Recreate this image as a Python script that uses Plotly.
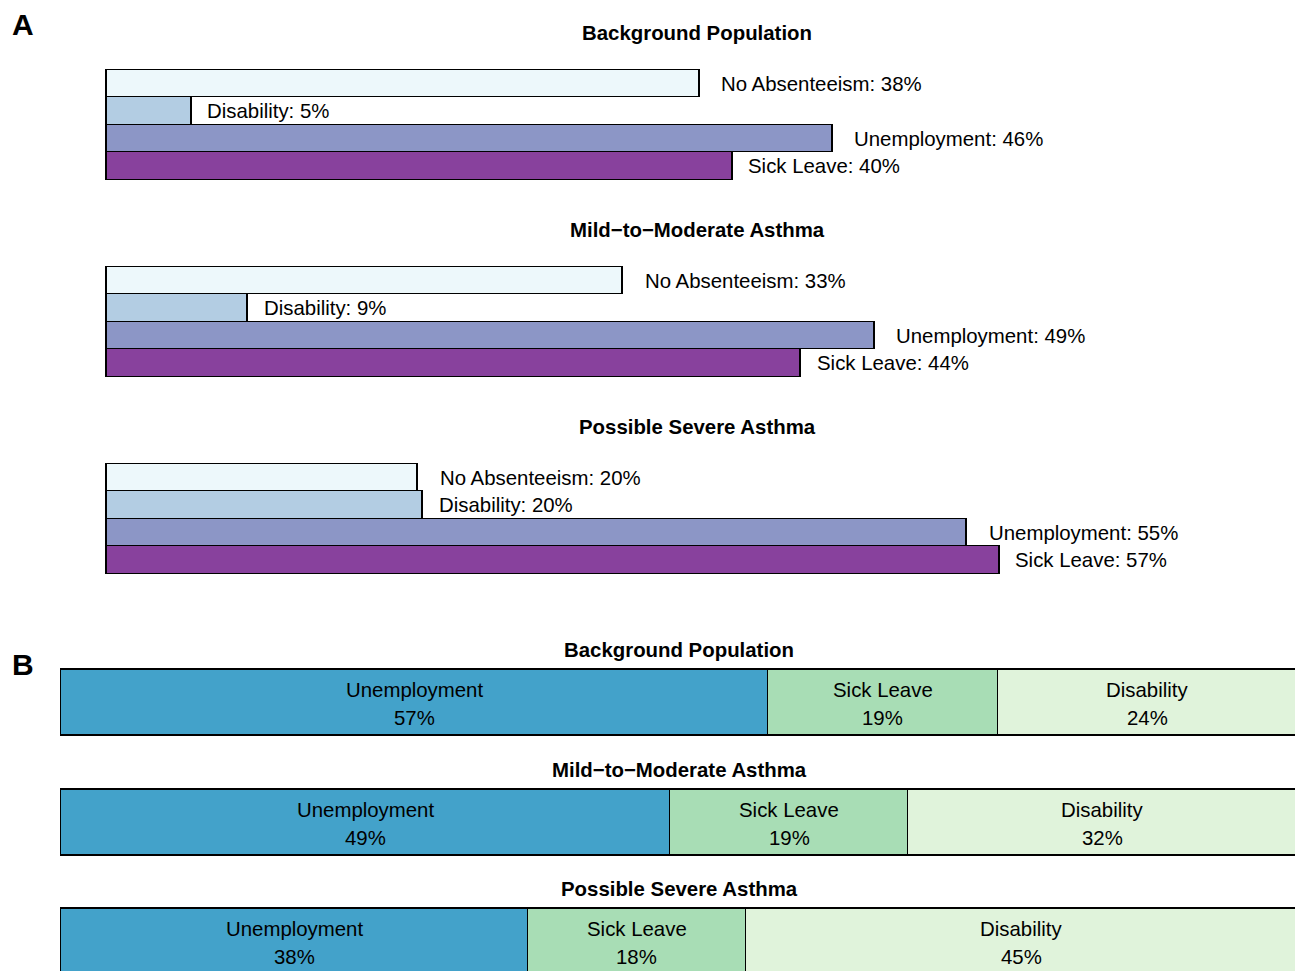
import plotly.graph_objects as go

W, H = 1295, 971
FONT = "Liberation Sans, Arial, Helvetica, sans-serif"

# ---------------- data ----------------
group_titles = ["Background Population", "Mild\u2212to\u2212Moderate Asthma", "Possible Severe Asthma"]

a_categories = ["No Absenteeism", "Disability", "Unemployment", "Sick Leave"]
a_background = [37.9, 5.4, 46.4, 40.0]
a_mild = [33.0, 9.0, 49.1, 44.4]
a_severe = [19.9, 20.2, 55.0, 57.1]
a_colors = ["#edf8fb", "#b3cde3", "#8c96c6", "#88419d"]

b_categories = ["Unemployment", "Sick Leave", "Disability"]
b_background = [57.2, 18.6, 24.2]
b_mild = [49.3, 19.2, 31.5]
b_severe = [37.8, 17.6, 44.6]
b_colors = ["#43a2ca", "#a8ddb5", "#e0f3db"]

a_groups = [a_background, a_mild, a_severe]
b_groups = [b_background, b_mild, b_severe]

# ---------------- layout helpers (pixels -> paper) ----------------
def px_x(p):
    return p / W

def px_y(p):
    return 1 - p / H

fig = go.Figure()
annotations = []
layout_axes = {}

FS = 20.4
LINE = dict(color="black", width=1.5)
TXT = dict(family=FONT, size=FS, color="black")
TITLE = dict(family=FONT, size=FS, color="black")

# ---- Panel A ----
A_X0, A_SCALE, A_PAD = 107, 15.63, 0.15
A_BAR_H = 27.5
a_tops = [70, 267, 464]
a_title_y = [33, 230, 427]

for i, vals in enumerate(a_groups):
    k = i + 1
    xa, ya = ("x" if k == 1 else f"x{k}"), ("y" if k == 1 else f"y{k}")
    n = len(a_categories)
    top_px = a_tops[i] - 0.1 * A_BAR_H
    bot_px = a_tops[i] + n * A_BAR_H + 0.1 * A_BAR_H
    layout_axes[f"xaxis{k if k > 1 else ''}"] = dict(
        domain=[px_x(A_X0 - A_PAD * A_SCALE), 1.0],
        range=[-A_PAD, (W - A_X0) / A_SCALE],
        visible=False, anchor=ya, fixedrange=True,
    )
    layout_axes[f"yaxis{k if k > 1 else ''}"] = dict(
        domain=[px_y(bot_px), px_y(top_px)],
        range=[n - 0.5 + 0.1, -0.5 - 0.1],
        visible=False, anchor=xa, fixedrange=True,
    )
    fig.add_trace(go.Bar(
        x=vals, y=list(range(n)), orientation="h", width=1,
        marker=dict(color=a_colors, line=LINE),
        xaxis=xa, yaxis=ya, showlegend=False, hoverinfo="skip",
    ))
    for j, (cat, v) in enumerate(zip(a_categories, vals)):
        annotations.append(dict(
            text=f"{cat}: {v:.0f}%", x=v, y=j, xref=xa, yref=ya,
            xanchor="left", yanchor="middle", showarrow=False,
            xshift=20 if j % 2 == 0 else 14, font=TXT,
        ))
    annotations.append(dict(
        text=f"<b>{group_titles[i]}</b>", x=px_x(697), y=px_y(a_title_y[i]),
        xref="paper", yref="paper", xanchor="center", yanchor="middle",
        showarrow=False, font=TITLE,
    ))

# ---- Panel B ----
B_X0, B_SCALE, B_PAD = 61, 12.36, 0.15
B_BAR_H = 66
b_tops = [670, 790, 909]
b_title_y = [650, 770, 889]

for i, vals in enumerate(b_groups):
    k = i + 4
    xa, ya = f"x{k}", f"y{k}"
    top_px = b_tops[i] - 0.05 * B_BAR_H
    bot_px = min(b_tops[i] + B_BAR_H + 0.05 * B_BAR_H, H)
    top_val = -0.5 - 0.05
    bot_val = top_val + (bot_px - top_px) / B_BAR_H
    layout_axes[f"xaxis{k}"] = dict(
        domain=[px_x(B_X0 - B_PAD * B_SCALE), 1.0],
        range=[-B_PAD, (W - B_X0) / B_SCALE],
        visible=False, anchor=ya, fixedrange=True,
    )
    layout_axes[f"yaxis{k}"] = dict(
        domain=[max(px_y(bot_px), 0.0), px_y(top_px)],
        range=[bot_val, top_val],
        visible=False, anchor=xa, fixedrange=True,
    )
    base = 0.0
    for cat, v, c in zip(b_categories, vals, b_colors):
        fig.add_trace(go.Bar(
            x=[v], y=[0], orientation="h", width=1,
            marker=dict(color=c, line=LINE),
            xaxis=xa, yaxis=ya, showlegend=False, hoverinfo="skip",
        ))
        mid = base + v / 2
        for line_txt, shift in [(cat, 13), (f"{v:.0f}%", -15)]:
            annotations.append(dict(
                text=line_txt, x=mid, y=0, xref=xa, yref=ya,
                xanchor="center", yanchor="middle", showarrow=False,
                yshift=shift, font=TXT,
            ))
        base += v
    annotations.append(dict(
        text=f"<b>{group_titles[i]}</b>", x=px_x(679), y=px_y(b_title_y[i]),
        xref="paper", yref="paper", xanchor="center", yanchor="middle",
        showarrow=False, font=TITLE,
    ))

# panel letters
for letter, py in [("A", 24), ("B", 664)]:
    annotations.append(dict(
        text=f"<b>{letter}</b>", x=px_x(22.5), y=px_y(py), xref="paper", yref="paper",
        xanchor="center", yanchor="middle", showarrow=False,
        font=dict(family=FONT, size=30, color="black"),
    ))

fig.update_layout(
    width=W, height=H, margin=dict(l=0, r=0, t=0, b=0),
    paper_bgcolor="white", plot_bgcolor="white",
    barmode="stack", bargap=0,
    annotations=annotations, font=dict(family=FONT),
    **layout_axes,
)

fig.write_html(
    "out.html",
    config={"displayModeBar": False},
    post_script="document.body.style.margin='0';document.body.style.overflow='hidden';",
)
